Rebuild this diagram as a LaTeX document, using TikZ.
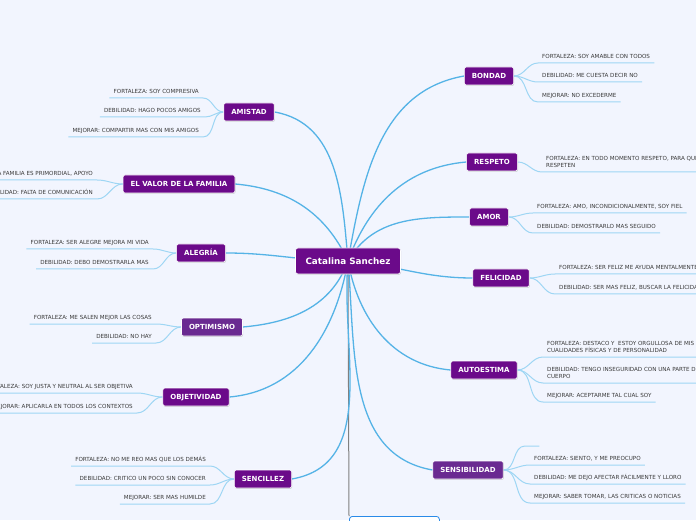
\documentclass[tikz,border=0pt]{standalone}
\usepackage{fontspec}
\setmainfont{DejaVu Sans}
\usetikzlibrary{shadows}
\definecolor{bgblue}{HTML}{F2F5FE}
\definecolor{plum}{HTML}{6B0A8A}
\definecolor{plumlight}{HTML}{6A2A91}
\definecolor{wiremain}{HTML}{55B3E6}
\definecolor{wiresub}{HTML}{9ED6F4}
\definecolor{leaftext}{HTML}{3A3A3A}
\definecolor{frameblue}{HTML}{2B8BE8}
\pgfdeclarelayer{canvas}
\pgfdeclarelayer{wires}
\pgfsetlayers{canvas,wires,main}

\begin{document}
\begin{tikzpicture}[x=1pt,y=1pt]
  \tikzstyle{root}=[fill=plum,draw=white,line width=0.6pt,rounded corners=2.5pt,text=white,font=\fontsize{8.8}{10}\selectfont\bfseries,minimum height=26pt,inner xsep=10pt,drop shadow={shadow xshift=0.6pt,shadow yshift=-0.8pt,opacity=0.35}]
  \tikzstyle{topic}=[fill=plum,draw=white,line width=0.6pt,rounded corners=2pt,text=white,font=\fontsize{7}{8}\selectfont\bfseries,minimum height=18pt,inner xsep=7.5pt,text height=5.2pt,text depth=0pt,drop shadow={shadow xshift=0.6pt,shadow yshift=-0.8pt,opacity=0.35}]
  \tikzstyle{leafL}=[anchor=south east,font=\fontsize{5.6}{7}\selectfont,text=leaftext,inner xsep=4pt,inner ysep=2.5pt,text depth=1.5pt]
  \tikzstyle{leafR}=[anchor=south west,font=\fontsize{5.6}{7}\selectfont,text=leaftext,inner xsep=4pt,inner ysep=2.5pt,text depth=1.5pt,align=left]
  \tikzstyle{stem}=[wiremain,line width=1.3pt]
  \tikzstyle{twig}=[wiresub,line width=1pt]
  \useasboundingbox (0,0) rectangle (696,520);
  \begin{pgfonlayer}{canvas}
    \fill[bgblue] (0,0) rectangle (696,520);
  \end{pgfonlayer}
  \clip (0,0) rectangle (696,520);

  \node[root] (cs) at (348,259) {Catalina Sanchez};

  \node[topic] (amistad) at (249,408) {AMISTAD};
  \node[topic] (familia) at (179,336) {EL VALOR DE LA FAMILIA};
  \node[topic] (alegria) at (201,267) {ALEGRÍA};
  \node[topic,fill=plumlight] (optimismo) at (212,193) {OPTIMISMO};
  \node[topic] (objetividad) at (196,123) {OBJETIVIDAD};
  \node[topic] (sencillez) at (263,41) {SENCILLEZ};
  \node[topic] (bondad) at (489,444) {BONDAD};
  \node[topic] (respeto) at (492,358) {RESPETO};
  \node[topic] (amor) at (489,303) {AMOR};
  \node[topic] (felicidad) at (501,242) {FELICIDAD};
  \node[topic] (autoestima) at (484,150) {AUTOESTIMA};
  \node[topic,fill=plumlight] (sensibilidad) at (468,50) {SENSIBILIDAD};
  \node[draw=frameblue,fill=white,line width=0.8pt,rounded corners=3pt,minimum width=90pt,minimum height=20pt,anchor=north west] (extra) at (349,4) {};

  \node[leafL] (a1) at (203,422) {FORTALEZA: SOY COMPRESIVA};
  \node[leafL] (a2) at (205,403) {DEBILIDAD: HAGO POCOS AMIGOS};
  \node[leafL] (a3) at (203,383) {MEJORAR: COMPARTIR MAS CON MIS AMIGOS};
  \node[leafL] (f1) at (97,340) {FORTALEZA: LA FAMILIA ES PRIMORDIAL, APOYO};
  \node[leafL] (f2) at (97,321) {DEBILIDAD: FALTA DE COMUNICACIÓN};
  \node[leafL] (l1) at (153,271) {FORTALEZA: SER ALEGRE MEJORA MI VIDA};
  \node[leafL] (l2) at (153,251) {DEBILIDAD: DEBO DEMOSTRARLA MAS};
  \node[leafL] (o1) at (156,196) {FORTALEZA: ME SALEN MEJOR LAS COSAS};
  \node[leafL] (o2) at (156,177) {DEBILIDAD: NO HAY};
  \node[leafL] (ob1) at (137,127) {FORTALEZA: SOY JUSTA Y NEUTRAL AL SER OBJETIVA};
  \node[leafL] (ob2) at (137,107) {MEJORAR: APLICARLA EN TODOS LOS CONTEXTOS};
  \node[leafL] (s1) at (210,54) {FORTALEZA: NO ME REO MAS QUE LOS DEMÁS};
  \node[leafL] (s2) at (210,35) {DEBILIDAD: CRITICO UN POCO SIN CONOCER};
  \node[leafL] (s3) at (210,16) {MEJORAR: SER MAS HUMILDE};

  \node[leafR] (b1) at (538,457) {FORTALEZA: SOY AMABLE CON TODOS};
  \node[leafR] (b2) at (538,438) {DEBILIDAD: ME CUESTA DECIR NO};
  \node[leafR] (b3) at (538,418) {MEJORAR: NO EXCEDERME};
  \node[leafR] (r1) at (542,348) {FORTALEZA: EN TODO MOMENTO RESPETO, PARA QUE ME\\RESPETEN};
  \node[leafR] (am1) at (533,307) {FORTALEZA: AMO, INCONDICIONALMENTE, SOY FIEL};
  \node[leafR] (am2) at (533,287) {DEBILIDAD: DEMOSTRARLO MAS SEGUIDO};
  \node[leafR] (fe1) at (555,246) {FORTALEZA: SER FELIZ ME AYUDA MENTALMENTE};
  \node[leafR] (fe2) at (555,226) {DEBILIDAD: SER MAS FELIZ, BUSCAR LA FELICIDAD};
  \node[leafR] (au1) at (543,163) {FORTALEZA: DESTACO Y\ \ ESTOY ORGULLOSA DE MIS\\CUALIDADES FÍSICAS Y DE PERSONALIDAD};
  \node[leafR] (au2) at (543,137) {DEBILIDAD: TENGO INSEGURIDAD CON UNA PARTE DE MI\\CUERPO};
  \node[leafR] (au3) at (543,118) {MEJORAR: ACEPTARME TAL CUAL SOY};
  \node[leafR,minimum width=14pt] (se0) at (525,74) {};
  \node[leafR] (se1) at (530,55) {FORTALEZA: SIENTO, Y ME PREOCUPO};
  \node[leafR] (se2) at (530,36) {DEBILIDAD: ME DEJO AFECTAR FÁCILMENTE Y LLORO};
  \node[leafR] (se3) at (530,17) {MEJORAR: SABER TOMAR, LAS CRITICAS O NOTICIAS};

  \begin{pgfonlayer}{wires}
    \draw[gray,line width=1pt] (cs.center) -- (extra.north west);
    \draw[stem] (cs.center) to[out=95,in=-10] (amistad.east);
    \draw[stem] (cs.center) to[out=115,in=-5] (familia.east);
    \draw[stem] (cs.center) to[out=180,in=0] (alegria.east);
    \draw[stem] (cs.center) to[out=-110,in=5] (optimismo.east);
    \draw[stem] (cs.center) to[out=-100,in=5] (objetividad.east);
    \draw[stem] (cs.center) to[out=-95,in=10] (sencillez.east);
    \draw[stem] (cs.center) to[out=80,in=190] (bondad.west);
    \draw[stem] (cs.center) to[out=70,in=185] (respeto.west);
    \draw[stem] (cs.center) to[out=60,in=180] (amor.west);
    \draw[stem] (cs.center) to[out=-5,in=180] (felicidad.west);
    \draw[stem] (cs.center) to[out=-80,in=175] (autoestima.west);
    \draw[stem] (cs.center) to[out=-85,in=170] (sensibilidad.west);

    \foreach \leaf in {a1,a2,a3}
      \draw[twig] (amistad.west) to[out=180,in=0] (\leaf.south east) -- (\leaf.south west);
    \foreach \leaf in {f1,f2}
      \draw[twig] (familia.west) to[out=180,in=0] (\leaf.south east) -- (\leaf.south west);
    \foreach \leaf in {l1,l2}
      \draw[twig] (alegria.west) to[out=180,in=0] (\leaf.south east) -- (\leaf.south west);
    \foreach \leaf in {o1,o2}
      \draw[twig] (optimismo.west) to[out=180,in=0] (\leaf.south east) -- (\leaf.south west);
    \foreach \leaf in {ob1,ob2}
      \draw[twig] (objetividad.west) to[out=180,in=0] (\leaf.south east) -- (\leaf.south west);
    \foreach \leaf in {s1,s2,s3}
      \draw[twig] (sencillez.west) to[out=180,in=0] (\leaf.south east) -- (\leaf.south west);
    \foreach \leaf in {b1,b2,b3}
      \draw[twig] (bondad.east) to[out=0,in=180] (\leaf.south west) -- (\leaf.south east);
    \draw[twig] (respeto.east) to[out=0,in=180] (r1.south west) -- (r1.south east);
    \foreach \leaf in {am1,am2}
      \draw[twig] (amor.east) to[out=0,in=180] (\leaf.south west) -- (\leaf.south east);
    \foreach \leaf in {fe1,fe2}
      \draw[twig] (felicidad.east) to[out=0,in=180] (\leaf.south west) -- (\leaf.south east);
    \foreach \leaf in {au1,au2,au3}
      \draw[twig] (autoestima.east) to[out=0,in=180] (\leaf.south west) -- (\leaf.south east);
    \foreach \leaf in {se0,se1,se2,se3}
      \draw[twig] (sensibilidad.east) to[out=0,in=180] (\leaf.south west) -- (\leaf.south east);
  \end{pgfonlayer}
\end{tikzpicture}
\end{document}
